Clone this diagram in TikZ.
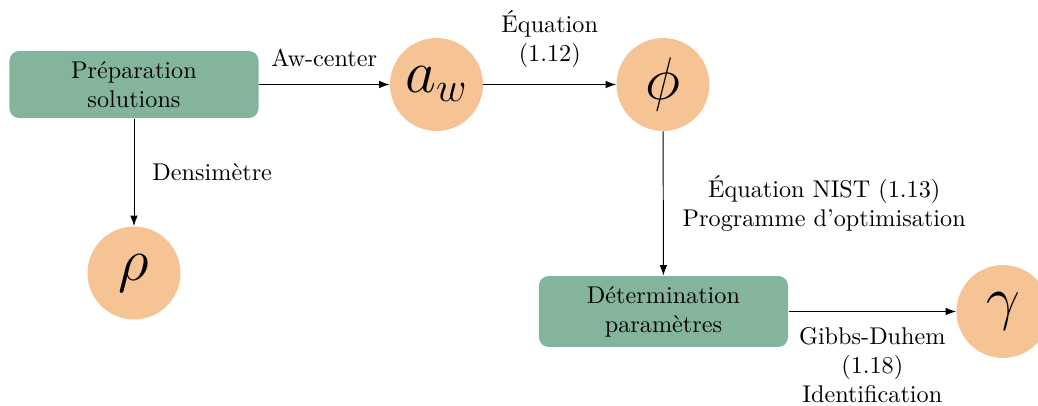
\documentclass[tikz,border=0pt]{standalone}
\usetikzlibrary{arrows.meta}
\definecolor{boxgreen}{RGB}{132,181,156}
\definecolor{circorange}{RGB}{246,196,148}
\begin{document}
\begin{tikzpicture}[x=0.4132pt,y=-0.4132pt,
  box/.style={fill=boxgreen, rounded corners=4pt, minimum width=102.9pt, minimum height=27.7pt, align=center, inner sep=0pt},
  var/.style={circle, fill=circorange, minimum size=38.4pt, inner sep=0pt, font=\fontsize{24.5}{30}\selectfont},
  conn/.style={-{Latex[length=4.3pt,width=3.1pt]}},
  lbl/.style={align=center}]
\useasboundingbox (0,0) rectangle (1038,405);
\node[box] (prep) at (134,84.5) {Préparation\\solutions};
\node[var] (aw) at (436.5,84.5) {$a_w$};
\node[var] (phi) at (663,84.5) {$\phi$};
\node[var] (rho) at (134,273) {$\rho$};
\node[box, minimum height=29.3pt] (det) at (663.5,311.5) {Détermination\\paramètres};
\node[var] (gam) at (1003,311.5) {$\gamma$};
\draw[conn] (prep) -- node[lbl,above=3.6pt]{Aw-center} (aw);
\draw[conn] (aw) -- node[lbl,above=3.6pt]{Équation\\(1.12)} (phi);
\draw[conn] (prep) -- node[lbl,right=4.1pt]{Densimètre} (rho);
\draw[conn] (phi) -- node[lbl,right=4.5pt]{Équation NIST (1.13)\\Programme d’optimisation} (det);
\draw[conn] (det) -- node[lbl,below=3.2pt]{Gibbs-Duhem\\(1.18)\\Identification} (gam);
\end{tikzpicture}
\end{document}
